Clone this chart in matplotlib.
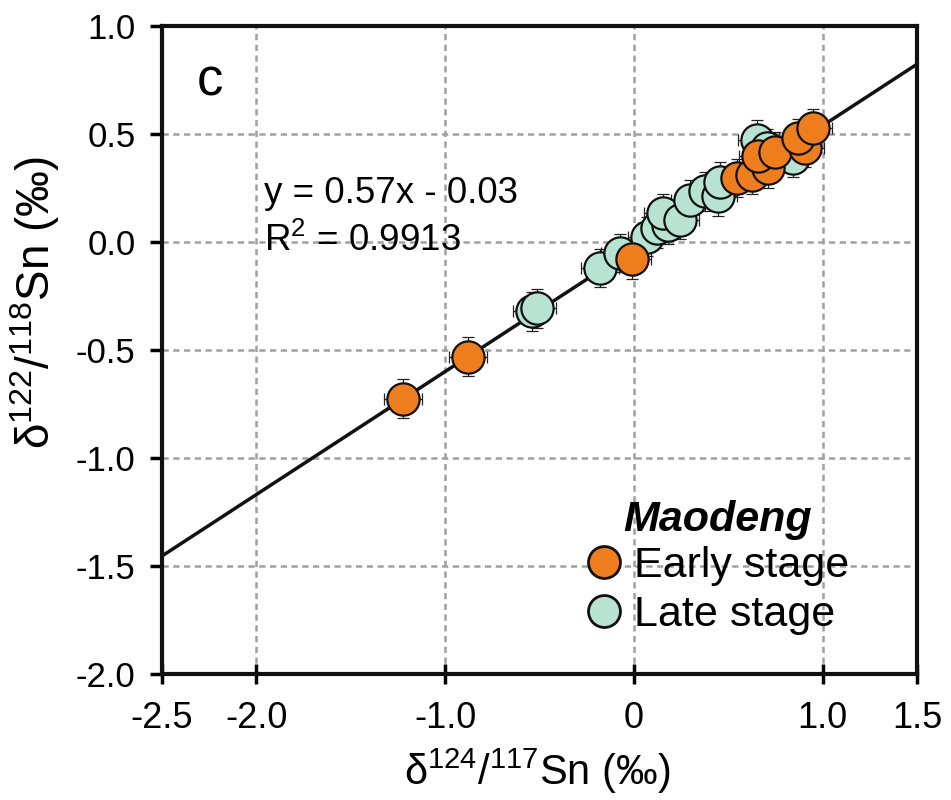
import matplotlib
matplotlib.use("Agg")
import matplotlib.pyplot as plt
import numpy as np
from matplotlib.lines import Line2D

plt.rcParams['font.family'] = ['Liberation Sans', 'DejaVu Sans']
plt.rcParams['mathtext.fontset'] = 'custom'
plt.rcParams['mathtext.rm'] = 'Liberation Sans'
plt.rcParams['mathtext.it'] = 'Liberation Sans:italic'

early_x = [-1.224, -0.879, -0.01, 0.544, 0.624, 0.71, 0.659, 0.747, 0.906, 0.871, 0.95]
early_y = [-0.725, -0.531, -0.08, 0.297, 0.312, 0.343, 0.397, 0.42, 0.436, 0.482, 0.528]

late_x = [-0.54, -0.515, -0.18, -0.074, 0.067, 0.12, 0.18, 0.155, 0.244, 0.297, 0.376,
          0.447, 0.456, 0.65, 0.703, 0.844]
late_y = [-0.32, -0.306, -0.12, -0.05, 0.026, 0.065, 0.08, 0.134, 0.104, 0.197, 0.235,
          0.212, 0.281, 0.475, 0.436, 0.39]

slope, intercept = 0.57, -0.03
xticks = [-2.5, -2.0, -1.0, 0.0, 1.0, 1.5]
xticklabels = ['-2.5', '-2.0', '-1.0', '0', '1.0', '1.5']
yticks = [1.0, 0.5, 0.0, -0.5, -1.0, -1.5, -2.0]
yticklabels = ['1.0', '0.5', '0.0', '-0.5', '-1.0', '-1.5', '-2.0']

orange = '#EE7D1E'
green = '#B8E2D2'

fig = plt.figure(figsize=(9.51, 8.0), dpi=100)
ax = fig.add_axes([0.1703, 0.158, 0.794, 0.809])
ax.set_xlim(-2.5, 1.5)
ax.set_ylim(-2.0, 1.0)

for gx in [-2.0, -1.0, 0.0, 1.0]:
    ax.axvline(gx, color='#a0a0a0', lw=1.8, ls=(0, (2.5, 1.8)), zorder=0)
for gy in [0.5, 0.0, -0.5, -1.0, -1.5]:
    ax.axhline(gy, color='#a0a0a0', lw=1.8, ls=(0, (2.5, 1.8)), zorder=0)

xs = np.linspace(-2.5, 1.5, 10)
ax.plot(xs, slope * xs + intercept, color='#111111', lw=2.5, zorder=1)

for ex, ey in [(late_x, late_y), (early_x, early_y)]:
    ax.errorbar(ex, ey, xerr=0.1, yerr=0.09, fmt='none', ecolor='#222222',
                elinewidth=0.9, capsize=4, capthick=0.9, zorder=2)
ax.scatter(late_x, late_y, s=540, c=green, edgecolors='#111111', linewidths=1.6, zorder=3)
ax.scatter(early_x, early_y, s=540, c=orange, edgecolors='#111111', linewidths=1.6, zorder=4)

ax.set_xticks(xticks)
ax.set_xticklabels(xticklabels)
ax.set_yticks(yticks)
ax.set_yticklabels(yticklabels)
ax.tick_params(axis='y', labelsize=25, length=9, width=2.5, direction='out', pad=10)
ax.tick_params(axis='x', labelsize=26, length=14, width=2.5, direction='inout', pad=13)
for sp in ax.spines.values():
    sp.set_linewidth(3)
    sp.set_color('#111111')

ax.set_xlabel(r'δ$^{\mathrm{124}}$/$^{\mathrm{117}}$Sn (‰)', fontsize=30)
ax.xaxis.set_label_coords(0.497, -0.113)
ax.set_ylabel(r'δ$^{\mathrm{122}}$/$^{\mathrm{118}}$Sn (‰)', fontsize=33)
ax.yaxis.set_label_coords(-0.133, 0.573)

ax.text(0.064, 0.915, 'c', transform=ax.transAxes, fontsize=38, va='center', ha='center')
ax.text(-1.96, 0.225, 'y = 0.57x - 0.03', fontsize=26.5, va='center', ha='left')
ax.text(-1.96, 0.005, r'R$^{\mathrm{2}}$ = 0.9913', fontsize=26.5, va='center', ha='left')

handles = [Line2D([], [], ls='none', marker='o', markersize=23, markerfacecolor=orange,
                  markeredgecolor='#111111', markeredgewidth=2.0),
           Line2D([], [], ls='none', marker='o', markersize=23, markerfacecolor=green,
                  markeredgecolor='#111111', markeredgewidth=2.0)]
leg = ax.legend(handles, ['Early stage', 'Late stage'], loc='upper left',
                bbox_to_anchor=(0.56, 0.268), frameon=False, fontsize=31,
                title='Maodeng', handletextpad=0.25, borderpad=0.0, borderaxespad=0.0,
                labelspacing=0.22, handlelength=0.9)
leg.get_title().set_fontsize(31)
leg.get_title().set_fontweight('bold')
leg.get_title().set_fontstyle('italic')
leg._legend_box.sep = 4

fig.savefig('out.png', dpi=100)
